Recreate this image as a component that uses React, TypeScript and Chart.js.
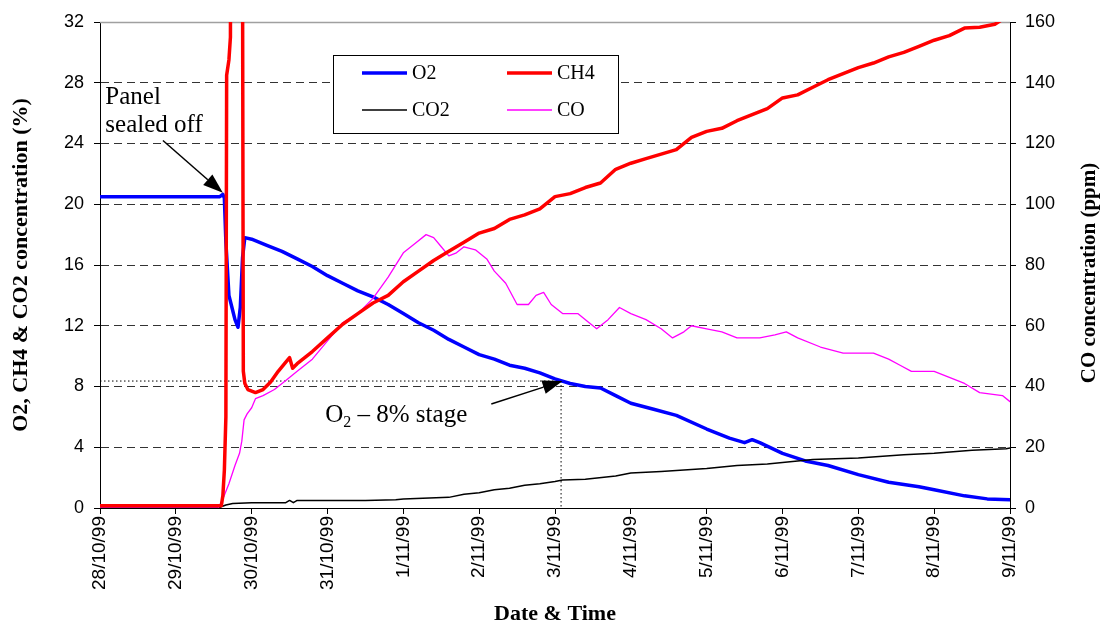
import React, { useEffect, useRef } from 'react';
import { Chart, registerables } from 'chart.js';
Chart.register(...registerables);

// X axis: days since 28/10/99 00:00
const dateLabels = ['28/10/99', '29/10/99', '30/10/99', '31/10/99', '1/11/99', '2/11/99', '3/11/99', '4/11/99', '5/11/99', '6/11/99', '7/11/99', '8/11/99', '9/11/99'];

const o2Day = [0, 1.58, 1.62, 1.64, 1.66, 1.70, 1.74, 1.78, 1.82, 1.85, 1.88, 1.91, 2.0, 2.2, 2.4, 2.6, 2.8, 3.0, 3.2, 3.4, 3.6, 3.8, 4.0, 4.2, 4.4, 4.6, 4.8, 5.0, 5.2, 5.4, 5.6, 5.8, 6.0, 6.2, 6.4, 6.6, 6.8, 7.0, 7.3, 7.6, 8.0, 8.3, 8.5, 8.6, 8.7, 9.0, 9.3, 9.6, 10.0, 10.4, 10.8, 11.0, 11.4, 11.7, 12.0];
const o2Val = [20.5, 20.5, 20.65, 20.4, 17.5, 14.0, 13.2, 12.4, 11.9, 13.2, 16.5, 17.8, 17.7, 17.3, 16.9, 16.4, 15.9, 15.3, 14.8, 14.3, 13.9, 13.4, 12.8, 12.2, 11.7, 11.1, 10.6, 10.1, 9.8, 9.4, 9.2, 8.9, 8.5, 8.2, 8.0, 7.9, 7.4, 6.9, 6.5, 6.1, 5.2, 4.6, 4.3, 4.5, 4.3, 3.6, 3.1, 2.8, 2.2, 1.7, 1.4, 1.2, 0.8, 0.6, 0.55];

const ch4Day = [0, 1.6, 1.62, 1.64, 1.66, 1.67, 1.70, 1.72, 1.73, 1.87, 1.89, 1.91, 1.95, 2.05, 2.15, 2.25, 2.35, 2.45, 2.5, 2.54, 2.6, 2.8, 3.0, 3.2, 3.4, 3.6, 3.8, 4.0, 4.2, 4.4, 4.6, 4.8, 5.0, 5.2, 5.4, 5.6, 5.8, 6.0, 6.2, 6.4, 6.6, 6.8, 7.0, 7.2, 7.4, 7.6, 7.8, 8.0, 8.2, 8.4, 8.6, 8.8, 9.0, 9.2, 9.4, 9.6, 9.8, 10.0, 10.2, 10.4, 10.6, 10.8, 11.0, 11.2, 11.4, 11.6, 11.8, 12.0];
const ch4Val = [0.15, 0.15, 0.8, 2.5, 6, 28.5, 29.5, 31, 60, 60, 9.0, 8.2, 7.8, 7.6, 7.8, 8.3, 9.0, 9.6, 9.9, 9.2, 9.5, 10.3, 11.2, 12.1, 12.8, 13.5, 14.0, 14.9, 15.6, 16.3, 16.9, 17.5, 18.1, 18.4, 19.0, 19.3, 19.7, 20.5, 20.7, 21.1, 21.4, 22.3, 22.7, 23.0, 23.3, 23.6, 24.4, 24.8, 25.0, 25.5, 25.9, 26.3, 27.0, 27.2, 27.7, 28.2, 28.6, 29.0, 29.3, 29.7, 30.0, 30.4, 30.8, 31.1, 31.6, 31.65, 31.85, 32.5];

const co2Day = [0, 1.58, 1.66, 1.75, 2.0, 2.45, 2.5, 2.55, 2.6, 3.0, 3.5, 3.9, 4.0, 4.6, 4.8, 5.0, 5.2, 5.4, 5.6, 5.8, 6.0, 6.1, 6.4, 6.8, 7.0, 7.4, 8.0, 8.4, 8.8, 9.0, 9.4, 10.0, 10.6, 11.0, 11.5, 11.95, 12.0];
const co2Val = [0.05, 0.05, 0.2, 0.3, 0.35, 0.35, 0.5, 0.35, 0.5, 0.5, 0.5, 0.55, 0.6, 0.7, 0.9, 1.0, 1.2, 1.3, 1.5, 1.6, 1.75, 1.85, 1.9, 2.1, 2.3, 2.4, 2.6, 2.8, 2.9, 3.0, 3.2, 3.3, 3.5, 3.6, 3.8, 3.9, 3.95];

const coDay = [0, 1.56, 1.62, 1.7, 1.78, 1.84, 1.87, 1.9, 1.94, 2.0, 2.05, 2.15, 2.3, 2.45, 2.6, 2.8, 3.0, 3.2, 3.4, 3.6, 3.8, 4.0, 4.15, 4.3, 4.4, 4.5, 4.6, 4.7, 4.8, 4.95, 5.1, 5.2, 5.35, 5.5, 5.65, 5.75, 5.85, 5.95, 6.1, 6.3, 6.45, 6.55, 6.7, 6.85, 7.0, 7.2, 7.4, 7.55, 7.7, 7.8, 8.0, 8.2, 8.4, 8.7, 8.9, 9.05, 9.2, 9.5, 9.8, 10.0, 10.2, 10.4, 10.55, 10.7, 11.0, 11.2, 11.4, 11.6, 11.9, 12.0];
const coVal = [0, 0, 3, 8, 14, 18, 22, 29, 31, 33, 36, 37, 39, 42, 45, 49, 55, 61, 64, 69, 76, 84, 87, 90, 89, 86, 83, 84, 86, 85, 82, 78, 74, 67, 67, 70, 71, 67, 64, 64, 61, 59, 62, 66, 64, 62, 59, 56, 58, 60, 59, 58, 56, 56, 57, 58, 56, 53, 51, 51, 51, 49, 47, 45, 45, 43, 41, 38, 37, 35];

// Annotations (data coordinates)
const stageDay = 6.08;
const stageO2 = 8.36;
const panelArrowTail = [0.83, 24.2];
const panelArrowTip = [1.62, 20.75];
const stageArrowTail = [5.16, 6.85];
const stageArrowTip = [6.1, 8.36];
const panelTextPos = [0.07, 26.6];
const stageTextPos = [2.97, 5.66];

const legendItems = [
  { label: 'O2', color: '#0000FF', width: 3.5 },
  { label: 'CH4', color: '#FF0000', width: 3.5 },
  { label: 'CO2', color: '#000000', width: 1.5 },
  { label: 'CO', color: '#FF00FF', width: 1.5 },
];

const pts = (xs: number[], ys: number[]) => xs.map((x, i) => ({ x, y: ys[i] }));

function drawArrow(ctx: CanvasRenderingContext2D, x1: number, y1: number, x2: number, y2: number, len = 20, halfW = 7) {
  const ang = Math.atan2(y2 - y1, x2 - x1);
  const bx = x2 - Math.cos(ang) * len;
  const by = y2 - Math.sin(ang) * len;
  ctx.beginPath();
  ctx.moveTo(x1, y1);
  ctx.lineTo(bx, by);
  ctx.strokeStyle = '#000';
  ctx.lineWidth = 1.5;
  ctx.stroke();
  ctx.beginPath();
  ctx.moveTo(x2, y2);
  ctx.lineTo(bx + Math.sin(ang) * halfW, by - Math.cos(ang) * halfW);
  ctx.lineTo(bx - Math.sin(ang) * halfW, by + Math.cos(ang) * halfW);
  ctx.closePath();
  ctx.fillStyle = '#000';
  ctx.fill();
}

const annotPlugin = {
  id: 'annot',
  beforeDatasetsDraw(chart: any) {
    const { ctx, chartArea: a, scales } = chart;
    const xs = scales.x, ys = scales.y;
    ctx.save();
    ctx.strokeStyle = '#a0a0a0';
    ctx.lineWidth = 1.5;
    ctx.beginPath();
    ctx.moveTo(a.left, a.top + 0.5);
    ctx.lineTo(a.right, a.top + 0.5);
    ctx.stroke();
    const px = xs.getPixelForValue(stageDay);
    const py = ys.getPixelForValue(stageO2);
    ctx.setLineDash([1.5, 2.5]);
    ctx.strokeStyle = '#000';
    ctx.lineWidth = 1;
    ctx.beginPath();
    ctx.moveTo(a.left, py);
    ctx.lineTo(px, py);
    ctx.moveTo(px, py);
    ctx.lineTo(px, a.bottom);
    ctx.stroke();
    ctx.restore();
  },
  afterDatasetsDraw(chart: any) {
    const { ctx, scales } = chart;
    const xs = scales.x, ys = scales.y;
    const P = (p: number[]) => [xs.getPixelForValue(p[0]), ys.getPixelForValue(p[1])];
    ctx.save();
    let t = P(panelArrowTail), h = P(panelArrowTip);
    drawArrow(ctx, t[0], t[1], h[0], h[1]);
    t = P(stageArrowTail); h = P(stageArrowTip);
    drawArrow(ctx, t[0], t[1], h[0], h[1]);

    ctx.fillStyle = '#000';
    ctx.textBaseline = 'alphabetic';
    ctx.textAlign = 'left';
    ctx.font = '25px "Liberation Serif"';
    const pt = P(panelTextPos);
    ctx.fillText('Panel', pt[0], pt[1]);
    ctx.fillText('sealed off', pt[0], pt[1] + 28);

    const st = P(stageTextPos);
    ctx.fillText('O', st[0], st[1]);
    let cx = st[0] + ctx.measureText('O').width;
    ctx.font = '16px "Liberation Serif"';
    ctx.fillText('2', cx, st[1] + 5);
    cx += ctx.measureText('2').width;
    ctx.font = '25px "Liberation Serif"';
    ctx.fillText(' \u2013 8% stage', cx, st[1]);

    // legend
    const lx = 333, ly = 55, lw = 285, lh = 78;
    ctx.fillStyle = '#fff';
    ctx.fillRect(lx, ly, lw, lh);
    ctx.strokeStyle = '#000';
    ctx.lineWidth = 1;
    ctx.strokeRect(lx + 0.5, ly + 0.5, lw, lh);
    ctx.font = '20px "Liberation Serif"';
    ctx.textBaseline = 'middle';
    legendItems.forEach((it, i) => {
      const col = i % 2, row = Math.floor(i / 2);
      const x0 = lx + 29 + col * 145;
      const y0 = ly + 18 + row * 37;
      ctx.strokeStyle = it.color;
      ctx.lineWidth = it.width;
      ctx.beginPath();
      ctx.moveTo(x0, y0);
      ctx.lineTo(x0 + 45, y0);
      ctx.stroke();
      ctx.fillStyle = '#000';
      ctx.fillText(it.label, x0 + 50, y0 + 1);
    });
    ctx.restore();
  },
  afterDraw(chart: any) {
    const { ctx, chartArea: a } = chart;
    ctx.save();
    ctx.translate(1090, (a.top + a.bottom) / 2 + 8);
    ctx.rotate(-Math.PI / 2);
    ctx.font = 'bold 21px "Liberation Serif"';
    ctx.fillStyle = '#000';
    ctx.textAlign = 'center';
    ctx.textBaseline = 'middle';
    ctx.fillText('CO concentration (ppm)', 0, 0);
    ctx.restore();
  },
};

const tickFont = { family: '"Liberation Sans", Arial, sans-serif', size: 18 };
const xTickFont = { family: '"Liberation Sans", Arial, sans-serif', size: 19 };
const titleFont = { family: '"Liberation Serif", "Times New Roman", serif', size: 22, weight: 'bold' as const };

export default function App() {
  const ref = useRef<HTMLCanvasElement>(null);
  useEffect(() => {
    if (!ref.current) return;
    const chart = new Chart(ref.current, {
      type: 'line',
      data: {
        datasets: [
          { label: 'CH4', data: pts(ch4Day, ch4Val), borderColor: '#FF0000', borderWidth: 3.5, yAxisID: 'y', clip: 0 },
          { label: 'CO', data: pts(coDay, coVal), borderColor: '#FF00FF', borderWidth: 1.3, yAxisID: 'y2', clip: 0 },
          { label: 'CO2', data: pts(co2Day, co2Val), borderColor: '#000000', borderWidth: 1.5, yAxisID: 'y', clip: 0 },
          { label: 'O2', data: pts(o2Day, o2Val), borderColor: '#0000FF', borderWidth: 3.5, yAxisID: 'y', clip: 0 },
        ],
      },
      options: {
        animation: false,
        responsive: false,
        devicePixelRatio: 1,
        layout: { padding: { top: 22, left: 0, right: 0, bottom: 0 } },
        elements: { point: { radius: 0 }, line: { tension: 0, borderJoinStyle: 'round', borderCapStyle: 'round' } },
        plugins: { legend: { display: false }, tooltip: { enabled: false } },
        scales: {
          x: {
            type: 'linear',
            min: 0,
            max: 12,
            afterFit: (s: any) => { s.height = 120; },
            ticks: {
              stepSize: 1,
              autoSkip: false,
              minRotation: 90,
              maxRotation: 90,
              padding: 2,
              color: '#000',
              font: xTickFont,
              callback: (v: any) => dateLabels[Math.round(v)] ?? '',
            },
            grid: { drawOnChartArea: false, drawTicks: true, tickLength: 6, tickColor: '#000' },
            border: { color: '#000', width: 1 },
            title: { display: true, text: 'Date & Time', color: '#000', font: titleFont, padding: { top: 0, bottom: 0 } },
          },
          y: {
            position: 'left',
            min: 0,
            max: 32,
            afterFit: (s: any) => { s.width = 100; },
            ticks: { stepSize: 4, padding: 10, color: '#000', font: tickFont },
            grid: {
              color: (c: any) => (c.tick && (c.tick.value === 0 || c.tick.value === 32) ? 'rgba(0,0,0,0)' : '#333'),
              lineWidth: 1,
              tickLength: 6,
              tickColor: '#000',
              tickBorderDash: [],
            },
            border: { color: '#000', width: 1, dash: [8, 5] },
            title: { display: true, text: 'O2, CH4 & CO2 concentration (%)', color: '#000', font: titleFont, padding: { top: 8, bottom: 0 } },
          },
          y2: {
            position: 'right',
            min: 0,
            max: 160,
            afterFit: (s: any) => { s.width = 91; },
            ticks: { stepSize: 20, padding: 9, color: '#000', font: tickFont },
            grid: { drawOnChartArea: false, tickLength: 6, tickColor: '#000' },
            border: { color: '#000', width: 1 },
          },
        },
      },
      plugins: [annotPlugin],
    } as any);
    return () => chart.destroy();
  }, []);
  return (
    <div style={{ position: 'absolute', left: 0, top: 0, width: 1101, height: 628, background: '#fff' }}>
      <canvas ref={ref} width={1101} height={628} style={{ width: 1101, height: 628, display: 'block' }} />
    </div>
  );
}
